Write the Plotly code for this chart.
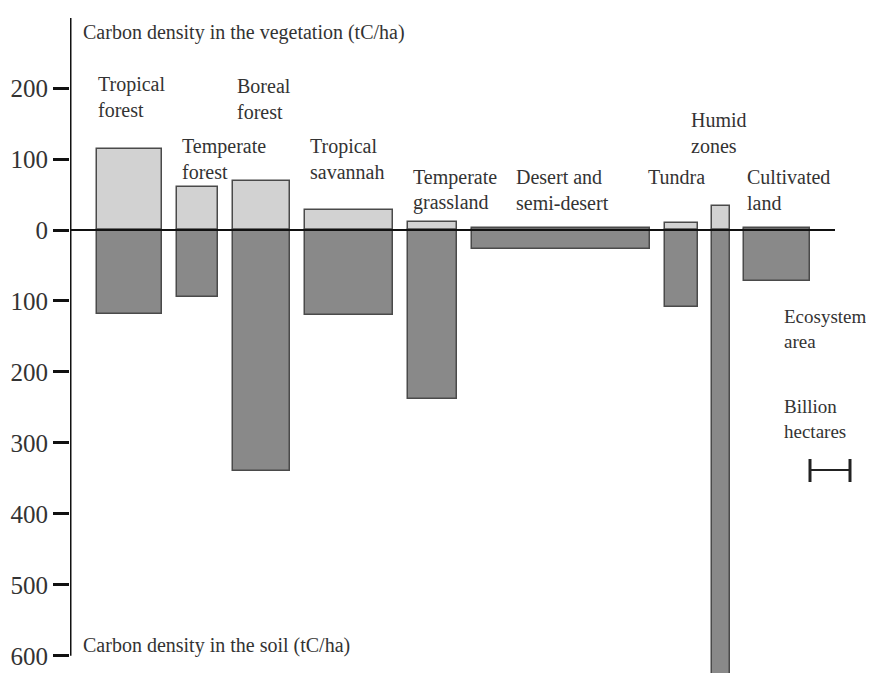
import plotly.graph_objects as go

# ---- data ----
ecosystems = ["Tropical forest", "Temperate forest", "Boreal forest", "Tropical savannah",
              "Temperate grassland", "Desert and semi-desert", "Tundra", "Humid zones",
              "Cultivated land"]
area_bha = [1.63, 1.04, 1.43, 2.21, 1.23, 4.46, 0.83, 0.43, 1.64]      # billion hectares (bar width)
veg_tc = [114, 60, 69, 28, 11, 3, 10, 34, 3]                            # tC/ha vegetation
soil_tc = [118, 95, 340, 120, 238, 27, 108, 640, 72]                    # tC/ha soil
tick_vals = [200, 100, 0, -100, -200, -300, -400, -500, -600]
tick_text = ["200", "100", "0", "100", "200", "300", "400", "500", "600"]

# ---- layout helpers ----
OFF = 8                              # page body margin in the browser
W, H = 874 - OFF, 673 - OFF
ML, MT = 70 - OFF, 18 - OFF
PX_PER_X = 40.0                      # pixels per billion ha
PX_PER_Y = 0.7097                    # pixels per tC/ha
Y_TOP = (230 - 18) / PX_PER_Y
Y_BOT = (230 - (H + OFF)) / PX_PER_Y
START, GAP = 27 / PX_PER_X, 0.365

def px_x(px):
    return (px - 70) / PX_PER_X

def px_y(py):
    return (230 - py) / PX_PER_Y

lefts = []
pos = START
for w in area_bha:
    lefts.append(pos)
    pos += w + GAP
centers = [l + w / 2 for l, w in zip(lefts, area_bha)]

FONT = "Liberation Serif, Times New Roman, serif"
TXT = "#333333"
LBL = 20

fig = go.Figure()
fig.add_trace(go.Bar(x=centers, y=veg_tc, width=area_bha, base=0,
                     marker=dict(color="#d2d2d2", line=dict(color="#4a4a4a", width=1.5)),
                     name="Vegetation", hoverinfo="skip"))
fig.add_trace(go.Bar(x=centers, y=[-v for v in soil_tc], width=area_bha, base=0,
                     marker=dict(color="#898989", line=dict(color="#4a4a4a", width=1.5)),
                     name="Soil", hoverinfo="skip"))

# label positions (page pixel left, first-line centre y, font size)
label_lines = [["Tropical", "forest"], ["Temperate", "forest"], ["Boreal", "forest"],
               ["Tropical", "savannah"], ["Temperate", "grassland"], ["Desert and", "semi-desert"],
               ["Tundra"], ["Humid", "zones"], ["Cultivated", "land"],
               ["Ecosystem", "area"], ["Billion", "hectares"]]
label_pos = [(96, 84, LBL), (180, 146, LBL), (235, 86, LBL), (308, 146, LBL), (411, 177, LBL),
             (514, 177, LBL), (646, 177, LBL), (689, 120, LBL), (745, 177, LBL),
             (782, 316, 19), (782, 406, 19)]

annotations = []
for lines, (lx, ly, fs) in zip(label_lines, label_pos):
    for i, t in enumerate(lines):
        annotations.append(dict(x=px_x(lx), y=px_y(ly + 25.5 * i), text=t, showarrow=False,
                                xanchor="left", yanchor="middle", xref="x", yref="y",
                                font=dict(family=FONT, size=fs, color=TXT)))
annotations.append(dict(x=px_x(81), y=px_y(32), text="Carbon density in the vegetation (tC/ha)",
                        showarrow=False, xanchor="left", yanchor="middle",
                        font=dict(family=FONT, size=LBL, color=TXT)))
annotations.append(dict(x=px_x(81), y=px_y(645), text="Carbon density in the soil (tC/ha)",
                        showarrow=False, xanchor="left", yanchor="middle",
                        font=dict(family=FONT, size=LBL, color=TXT)))

shapes = [
    # vertical axis line
    dict(type="line", x0=0, x1=0, y0=-600, y1=300, xref="x", yref="y",
         line=dict(color="#111111", width=3)),
    # zero line
    dict(type="line", x0=0, x1=px_x(835), y0=0, y1=0, xref="x", yref="y",
         line=dict(color="#111111", width=2), layer="above"),
    # scale bar: 1 billion hectares
    dict(type="line", x0=px_x(810), x1=px_x(810) + 1, y0=px_y(470), y1=px_y(470),
         line=dict(color="#222222", width=2)),
    dict(type="line", x0=px_x(810), x1=px_x(810), y0=px_y(459), y1=px_y(482),
         line=dict(color="#222222", width=3)),
    dict(type="line", x0=px_x(810) + 1, x1=px_x(810) + 1, y0=px_y(459), y1=px_y(482),
         line=dict(color="#222222", width=3)),
]

fig.update_layout(
    width=W, height=H, margin=dict(l=ML, r=0, t=MT, b=0),
    plot_bgcolor="white", paper_bgcolor="white", showlegend=False,
    barmode="overlay", bargap=0,
    xaxis=dict(range=[0, (W - ML) / PX_PER_X], visible=False, fixedrange=True),
    yaxis=dict(range=[Y_BOT, Y_TOP], tickvals=tick_vals, ticktext=tick_text,
               showgrid=False, zeroline=False, showline=False,
               ticks="outside", ticklen=16, tickwidth=3, tickcolor="#111111",
               ticklabelstandoff=0, automargin=False,
               tickfont=dict(family=FONT, size=25, color=TXT)),
    annotations=annotations, shapes=shapes,
)

fig.write_html("out.html")
